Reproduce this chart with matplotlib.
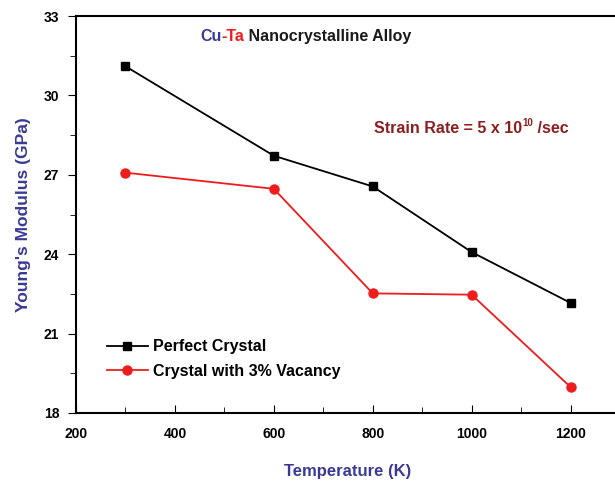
import matplotlib
matplotlib.use("Agg")
import matplotlib.pyplot as plt
from matplotlib.ticker import MultipleLocator

plt.rcParams['font.family'] = ['Liberation Sans', 'DejaVu Sans']
plt.rcParams['font.weight'] = 'bold'

temps = [300, 600, 800, 1000, 1200]
perfect = [31.1, 27.72, 26.56, 24.08, 22.16]
vacancy = [27.08, 26.47, 22.52, 22.47, 18.98]
labels = ['Perfect Crystal', 'Crystal with 3% Vacancy']

blue = '#3a3a96'
fig = plt.figure(figsize=(6.15, 4.82), dpi=100)
ax = fig.add_axes([76/615, 1-413/482, 544/615, 397/482])

ax.plot(temps, perfect, color='black', marker='s', ms=6, lw=1.3, label=labels[0])
ax.plot(temps, vacancy, color='#ee1c1c', marker='o', ms=6.5, lw=1.3, label=labels[1])

ax.set_xlim(200, 1300)
ax.set_ylim(18, 33)
ax.xaxis.set_major_locator(MultipleLocator(200))
ax.xaxis.set_minor_locator(MultipleLocator(100))
ax.yaxis.set_major_locator(MultipleLocator(3))
ax.yaxis.set_minor_locator(MultipleLocator(1.5))
ax.tick_params(axis='x', which='both', direction='in', labelsize=10, pad=10)
ax.tick_params(axis='x', which='major', length=6)
ax.tick_params(axis='x', which='minor', length=4)
ax.tick_params(axis='y', which='both', direction='out', labelsize=10, pad=6)
ax.tick_params(axis='y', which='major', length=6)
ax.tick_params(axis='y', which='minor', length=4)
for lab in ax.get_xticklabels() + ax.get_yticklabels():
    lab.set_fontweight('bold')
for s in ax.spines.values():
    s.set_linewidth(1.5)
ax.spines['right'].set_visible(False)

ax.set_xlabel('Temperature (K)', color=blue, fontsize=12, fontweight='bold', labelpad=17)
ax.set_ylabel("Young's Modulus (GPa)", color=blue, fontsize=12.5, fontweight='bold', labelpad=9)

# title built from three coloured pieces
ty = 1 - (41 - 16) / 397
t1 = ax.text(124/544, ty, 'Cu', transform=ax.transAxes, color=blue, fontsize=11.5,
             fontweight='bold', va='baseline')
t2 = ax.annotate('-Ta', xy=(1, 0), xycoords=t1, color='#ee1c1c', fontsize=11.5,
                 fontweight='bold', va='bottom')
ax.annotate(' Nanocrystalline Alloy', xy=(1, 0), xycoords=t2, color='#1a1a1a',
            fontsize=11.5, fontweight='bold', va='bottom')

s1 = ax.text(298/544, 1 - (136 - 16) / 397, 'Strain Rate = 5 x 10', transform=ax.transAxes,
             color='#8b1e1e', fontsize=11.5, fontweight='bold', va='bottom')
s2 = ax.annotate('10', xy=(1, 0.55), xycoords=s1, color='#8b1e1e', fontsize=7,
                 fontweight='bold', va='bottom')
ax.annotate(' /sec', xy=(1, 0), xycoords=(s2, s1), color='#8b1e1e', fontsize=11.5,
            fontweight='bold', va='bottom')

leg = ax.legend(loc='lower left', bbox_to_anchor=(0.03, 0.05), frameon=False,
                prop={'weight': 'bold', 'size': 11.5}, handlelength=2.6, handletextpad=0.3,
                labelspacing=0.6)

fig.savefig('out.png', dpi=100)
